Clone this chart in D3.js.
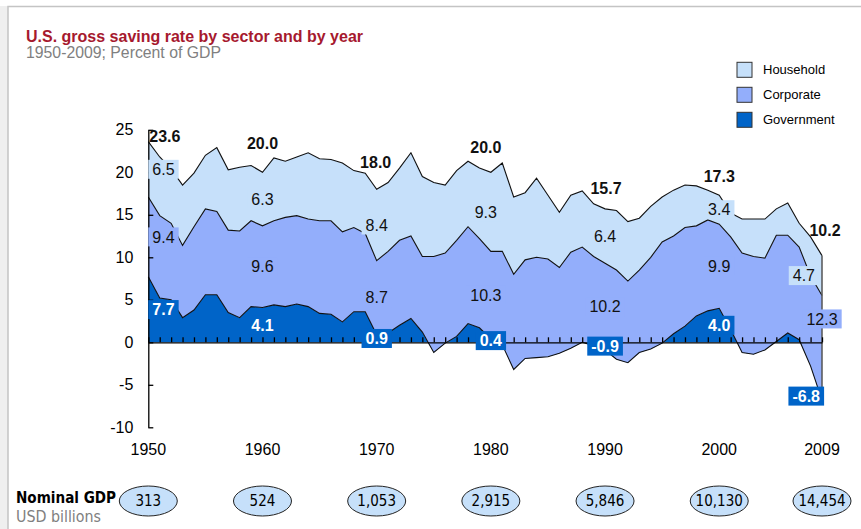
<!DOCTYPE html>
<html>
<head>
<meta charset="utf-8">
<script src="https://cdn.jsdelivr.net/npm/d3@7"></script>
<style>
  body { margin: 0; background: #fff; font-family: Arial, "Liberation Sans", sans-serif; }
  .narrow { font-family: "Liberation Sans Narrow", "DejaVu Sans Condensed", Arial, sans-serif; font-stretch: condensed; }
</style>
</head>
<body>
<div class="chart"></div>
<script>
// gross saving by sector, % of GDP, 1950-2009
const years = d3.range(1950, 2010);
const government = [
  7.7, 5.2, 5.0, 2.9, 3.8, 5.6, 5.6, 3.5, 2.9, 4.2,
  4.1, 4.4, 4.2, 4.5, 4.2, 3.4, 3.3, 2.4, 3.6, 3.6,
  0.9, 1.1, 2.0, 2.8, 1.2, -1.2, -0.1, 0.7, 2.2, 1.7,
  0.4, -0.3, -3.2, -1.9, -1.8, -1.7, -1.3, -0.7, 0.0, -0.4,
  -0.9, -2.0, -2.4, -1.2, -0.8, -0.1, 1.0, 1.9, 3.1, 3.7,
  4.0, 1.5, -1.2, -1.4, -0.9, 0.1, 1.1, 0.3, -2.8, -6.8
];
const corporate = [
  9.4, 9.7, 9.0, 8.5, 9.8, 10.1, 9.8, 9.7, 10.2, 10.1,
  9.6, 9.9, 10.5, 10.4, 10.3, 10.9, 11.0, 10.6, 9.9, 9.2,
  8.7, 9.6, 10.0, 9.7, 8.9, 11.3, 10.6, 11.3, 11.4, 10.5,
  10.3, 11.0, 11.2, 11.6, 11.8, 11.5, 10.1, 11.3, 11.2, 10.5,
  10.2, 10.5, 9.6, 9.7, 10.8, 11.9, 11.5, 11.6, 10.6, 10.7,
  9.9, 10.9, 11.7, 11.5, 10.8, 12.5, 11.5, 10.9, 10.6, 12.3
];
const household = [
  6.5, 6.9, 6.4, 7.1, 6.3, 6.3, 7.5, 7.1, 7.5, 6.5,
  6.3, 7.4, 6.6, 6.9, 7.8, 7.3, 7.2, 8.1, 6.7, 7.1,
  8.4, 8.1, 8.5, 9.8, 9.4, 8.7, 8.0, 8.2, 7.7, 8.3,
  9.3, 10.4, 9.1, 7.9, 9.3, 7.5, 6.5, 6.7, 6.6, 6.2,
  6.4, 7.0, 7.0, 6.1, 6.0, 5.3, 5.4, 5.0, 4.7, 3.5,
  3.4, 2.8, 4.0, 4.4, 4.6, 3.1, 3.8, 2.8, 4.6, 4.7
];
const labelYears = [1950, 1960, 1970, 1980, 1990, 2000, 2009];
const gdpValues = ["313", "524", "1,053", "2,915", "5,846", "10,130", "14,454"];
const yTicks = [-10, -5, 0, 5, 10, 15, 20, 25];
const sectors = ["Household", "Corporate", "Government"];

const colors = { Household: "#c6e0fa", Corporate: "#93aefb", Government: "#0064c8" };

const width = 861, height = 529;
const svg = d3.select(".chart").append("svg")
  .attr("width", width)
  .attr("height", height)
  .style("font-family", "Arial, 'Liberation Sans', sans-serif");

// frame
svg.append("rect").attr("x", 0).attr("y", 6).attr("width", 8).attr("height", height)
  .attr("fill", "#efefef");
svg.append("path").attr("d", `M8,${height} V6.5 H${width}`)
  .attr("fill", "none").attr("stroke", "#c4c4c4").attr("stroke-width", 1.5);

// title
svg.append("text").attr("x", 26).attr("y", 42)
  .attr("fill", "#a6192e").attr("font-weight", "bold").attr("font-size", 16)
  .text("U.S. gross saving rate by sector and by year");
svg.append("text").attr("x", 26).attr("y", 58)
  .attr("fill", "#808080").attr("font-size", 15.8)
  .text("1950-2009; Percent of GDP");

const x = d3.scaleLinear().domain([1950, 2009]).range([148.3, 822]);
const y = d3.scaleLinear().domain([-10, 25]).range([427.3, 129.8]);

const rows = years.map((yr, i) => ({
  year: yr, Government: government[i], Corporate: corporate[i], Household: household[i]
}));
const stack = d3.stack().keys(["Government", "Corporate", "Household"]);
const series = stack(rows);

const area = d3.area()
  .x(d => x(d.data.year))
  .y0(d => y(d[0]))
  .y1(d => y(d[1]));
const line = d3.line()
  .x(d => x(d.data.year))
  .y(d => y(d[1]));

svg.append("g").selectAll("path")
  .data(series)
  .join("path")
  .attr("d", area)
  .attr("fill", d => colors[d.key]);

svg.append("g").selectAll("path")
  .data(series)
  .join("path")
  .attr("d", line)
  .attr("fill", "none")
  .attr("stroke", "#111")
  .attr("stroke-width", 1.1);

// right edge of the areas
const last = series[2][series[2].length - 1];
svg.append("line")
  .attr("x1", x(2009)).attr("x2", x(2009))
  .attr("y1", y(last[1])).attr("y2", y(series[0][series[0].length - 1][1]))
  .attr("stroke", "#555").attr("stroke-width", 1.5);

// x axis on zero line with yearly ticks
const xAxis = d3.axisBottom(x).tickValues(years).tickSize(-5).tickSizeOuter(0).tickFormat("");
svg.append("g")
  .attr("transform", `translate(0,${y(0)})`)
  .call(xAxis)
  .call(g => g.selectAll("line,path").attr("stroke", "#000").attr("stroke-width", 1.3));

// y axis
const yAxis = d3.axisLeft(y).tickValues(yTicks).tickSize(-5).tickSizeOuter(0)
  .tickPadding(15).tickFormat(d => d);
svg.append("g")
  .attr("transform", `translate(${x(1950)},0)`)
  .call(yAxis)
  .call(g => g.selectAll("line,path").attr("stroke", "#000").attr("stroke-width", 1.3))
  .call(g => g.selectAll("text").attr("font-size", 16).attr("fill", "#000")
    .attr("font-family", "Arial, 'Liberation Sans', sans-serif"));

// year labels
svg.append("g").selectAll("text")
  .data(labelYears)
  .join("text")
  .attr("x", d => x(d))
  .attr("y", 449)
  .attr("dy", "0.35em")
  .attr("text-anchor", "middle")
  .attr("font-size", 16)
  .text(d => d);

// value labels
const totalNudge = { 1950: [1, 136.7], 1960: [0, -29], 1970: [-1, -27], 1980: [-5, -25],
  1990: [1, -21], 2000: [0, -19], 2009: [3, -25.6] };

const labels = [];
labelYears.forEach(yr => {
  const i = yr - 1950;
  const g = government[i], c = corporate[i], h = household[i];
  const mid = g + c, tot = mid + h;
  const anchor = yr === 1950 ? "start" : "middle";
  const x0 = yr === 1950 ? x(yr) + 4 : x(yr) + (yr === 1980 ? -5 : 0);
  // total
  const n = totalNudge[yr];
  labels.push({ key: "Total", text: tot.toFixed(1), x: yr === 1950 ? x(yr) + 1 : x(yr) + n[0],
    y: yr === 1950 ? n[1] : y(tot) + n[1], anchor: yr === 1950 ? "start" : "middle" });
  // household
  labels.push({ key: "Household", text: h.toFixed(1),
    x: yr === 2009 ? x(yr) - 7 : x0, y: (y(mid) + y(tot)) / 2,
    anchor: yr === 2009 ? "end" : anchor });
  // corporate
  labels.push({ key: "Corporate", text: c.toFixed(1),
    x: yr === 2009 ? x(yr) : x0, y: yr === 2009 ? (y(0) + y(mid)) / 2 : (y(g) + y(mid)) / 2,
    anchor: anchor });
  // government
  labels.push({ key: "Government", text: g.toFixed(1),
    x: yr === 2009 ? x(yr) - 2 : (yr === 1980 ? x(yr) : x0), y: yr === 2009 ? y(g) - 4 : y(g / 2),
    anchor: yr === 2009 ? "end" : anchor });
});

const lab = svg.append("g").selectAll("g")
  .data(labels)
  .join("g");

lab.append("text")
  .attr("x", d => d.x)
  .attr("y", d => d.y)
  .attr("dy", "0.36em")
  .attr("text-anchor", d => d.anchor)
  .attr("font-size", 16)
  .attr("font-weight", d => (d.key === "Total" || d.key === "Government") ? "bold" : "normal")
  .attr("fill", d => d.key === "Government" ? "#fff" : "#111")
  .text(d => d.text);

lab.filter(d => d.key !== "Total").each(function(d) {
  const grp = d3.select(this);
  const bb = grp.select("text").node().getBBox();
  grp.insert("rect", "text")
    .attr("x", bb.x - 4)
    .attr("y", d.y - 9.5)
    .attr("width", bb.width + 8)
    .attr("height", 19)
    .attr("fill", colors[d.key]);
});

// legend
const legend = svg.append("g").selectAll("g")
  .data(sectors)
  .join("g")
  .attr("transform", (d, i) => `translate(737,${62.3 + i * 25})`);
legend.append("rect")
  .attr("width", 15).attr("height", 15)
  .attr("fill", d => colors[d])
  .attr("stroke", "#333").attr("stroke-width", 1);
legend.append("text")
  .attr("x", 26).attr("y", 7.5).attr("dy", "0.35em")
  .attr("font-size", 13)
  .text(d => d);

// nominal GDP row
svg.append("text").attr("class", "narrow")
  .attr("x", 16).attr("y", 497).attr("dy", "0.35em")
  .attr("font-weight", "bold").attr("font-size", 16)
  .attr("textLength", 100).attr("lengthAdjust", "spacingAndGlyphs")
  .text("Nominal GDP");
svg.append("text").attr("class", "narrow")
  .attr("x", 16).attr("y", 517).attr("dy", "0.35em")
  .attr("fill", "#808080").attr("font-size", 15)
  .attr("textLength", 85).attr("lengthAdjust", "spacingAndGlyphs")
  .text("USD billions");

const gdp = svg.append("g").selectAll("g")
  .data(labelYears)
  .join("g")
  .attr("transform", d => `translate(${x(d)},501)`);
gdp.append("ellipse")
  .attr("rx", 29).attr("ry", 15)
  .attr("fill", colors.Household)
  .attr("stroke", "#222").attr("stroke-width", 1);
gdp.append("text").attr("class", "narrow")
  .attr("text-anchor", "middle").attr("dy", "0.35em")
  .attr("font-size", 15)
  .text((d, i) => gdpValues[i]);
</script>
</body>
</html>
